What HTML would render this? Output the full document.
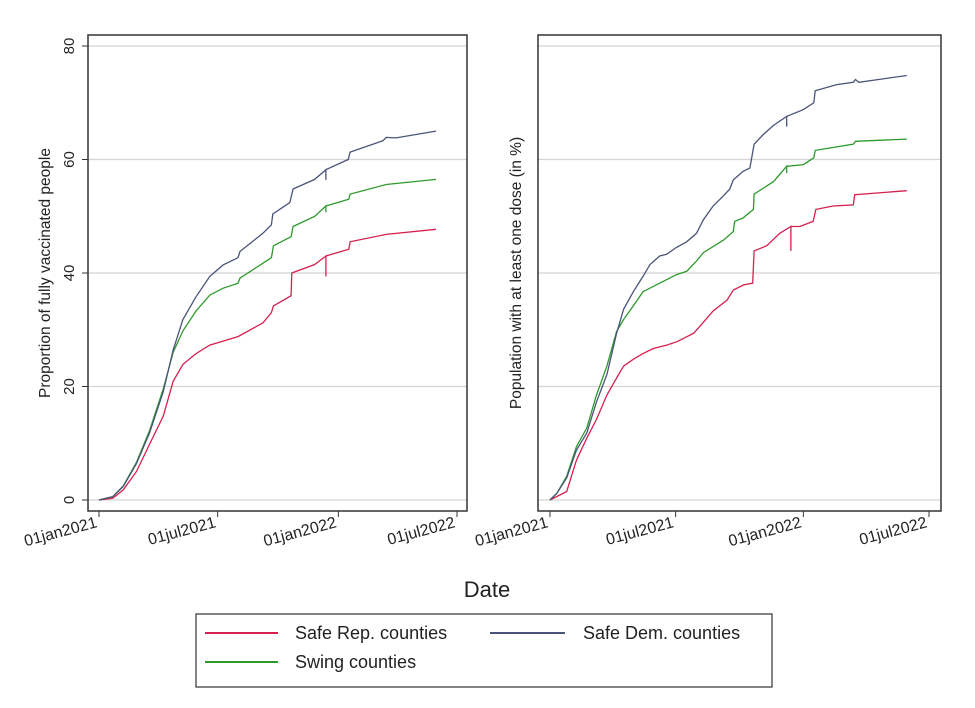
<!DOCTYPE html>
<html><head><meta charset="utf-8"><style>
body{margin:0;background:#fff;}
svg{display:block;font-family:"Liberation Sans",Arial,sans-serif;}
</style></head><body>
<svg id="chart" width="975" height="708" viewBox="0 0 975 708"></svg>
<script>
// Y ticks
const yTicks=[0,20,40,60,80];
const xTickLabels=["01jan2021","01jul2021","01jan2022","01jul2022"];
const xTickDays=[0,181,365,546];
// Left panel: fully vaccinated [day values, percent]
const leftDemDays=[0,21,37,57,77,98,113,128,148,169,189,212,215,250,263,265,291,296,329,346,346,346,380,383,433,438,453,514];
const leftDemVals=[0,0.6,2.4,6.4,11.8,19.1,26.4,31.8,35.8,39.4,41.4,42.7,43.8,47,48.5,50.4,52.4,54.8,56.5,58.2,56.4,58.2,60,61.3,63.3,63.9,63.8,65.0];
const leftSwingDays=[0,21,37,57,77,98,113,128,148,169,189,212,215,263,266,293,296,329,346,346,346,381,383,438,514];
const leftSwingVals=[0,0.6,2.5,6.6,12.2,19.6,26.0,29.8,33.3,36.1,37.3,38.2,39.1,42.7,44.8,46.4,48.2,50,51.8,50.7,51.8,53,53.9,55.6,56.5];
const leftRepDays=[0,21,37,57,77,98,113,128,148,169,212,250,263,266,293,294,329,346,346,346,381,383,438,514];
const leftRepVals=[0,0.3,1.8,5,9.8,14.8,20.9,23.9,25.8,27.3,28.8,31.2,33,34.2,36,40,41.5,43,39.4,43,44.2,45.5,46.8,47.7];
// Right panel: at least one dose
const rightDemDays=[0,10,24,38,53,67,82,96,106,120,134,144,158,168,182,197,211,221,235,250,259,264,278,288,294,308,322,341,341,341,365,380,382,413,437,440,445,514];
const rightDemVals=[0,1.2,3.9,8.8,11.8,17.3,22.1,29.4,33.6,36.7,39.4,41.5,43,43.3,44.5,45.5,47,49.4,51.8,53.6,54.8,56.4,57.9,58.5,62.7,64.5,66,67.6,65.8,67.6,68.8,70,72.1,73.2,73.6,74.1,73.6,74.8];
const rightSwingDays=[0,10,24,38,53,67,82,96,106,120,134,158,182,197,211,221,250,264,266,278,293,294,322,341,341,341,365,380,382,437,440,514];
const rightSwingVals=[0,1.2,4.2,9.4,12.7,18.5,23.6,29.7,31.8,34.2,36.7,38.2,39.7,40.3,42.1,43.6,45.8,47.3,49.1,49.7,51.2,53.9,56.1,58.8,57.6,58.8,59.1,60.3,61.6,62.7,63.2,63.6];
const rightRepDays=[0,24,38,53,67,82,96,106,120,134,149,168,183,207,216,235,255,264,279,292,294,312,331,347,347,347,360,379,383,408,437,439,514];
const rightRepVals=[0,1.5,7,10.9,14.2,18.5,21.5,23.6,24.8,25.8,26.7,27.3,27.9,29.4,30.6,33.3,35.2,37,37.9,38.2,43.9,44.8,47,48.2,43.9,48.2,48.2,49.1,51.2,51.8,52,53.8,54.5];

const NS="http://www.w3.org/2000/svg";
const svg=document.getElementById('chart');
function mk(tag,attrs,parent){const e=document.createElementNS(NS,tag);for(const k in attrs)e.setAttribute(k,attrs[k]);(parent||svg).appendChild(e);return e;}
const yScale=v=>500-v*5.675;
const COL={rep:"#d6204f",dem:"#4a5478",swing:"#2d9a2d"};

function panel(name,box,x0,perDay,series,ylabel,showY,ylOff){
  const g=mk('g',{});
  
  
  const xs=d=>x0+d*perDay;
  yTicks.forEach(t=>{
    const l=mk('line',{x1:box[0],x2:box[1],y1:yScale(t),y2:yScale(t),stroke:"#d4d4d4","stroke-width":1.3},g);
    
    
    if(showY){
      mk('line',{x1:box[0]-6,x2:box[0],y1:yScale(t),y2:yScale(t),stroke:"#333","stroke-width":1},g);
      const tx=mk('text',{x:0,y:0,transform:`translate(${box[0]-14},${yScale(t)}) rotate(-90)`,"text-anchor":"middle","font-size":15,fill:"#222"},g);
      tx.textContent=t;
      
      
    }
  });
  const r=mk('rect',{x:box[0],y:35,width:box[1]-box[0],height:476,fill:"none",stroke:"#333","stroke-width":1.5},g);
  
  
  xTickDays.forEach((d,i)=>{
    const x=xs(d);
    mk('line',{x1:x,x2:x,y1:511,y2:517,stroke:"#333","stroke-width":1},g);
    const tx=mk('text',{x:0,y:0,transform:`translate(${x-1},${527}) rotate(-15)`,"text-anchor":"end","font-size":16,fill:"#222"},g);
    tx.textContent=xTickLabels[i];
    
    
  });
  series.forEach(s=>{
    const pts=s.d.map((d,i)=>xs(d).toFixed(1)+","+yScale(s.v[i]).toFixed(1)).join(" ");
    const p=mk('polyline',{points:pts,fill:"none",stroke:COL[s.c],"stroke-width":1.3},g);
    
    
  });
  const yl=mk('text',{x:0,y:0,transform:`translate(${box[0]-ylOff},${273}) rotate(-90)`,"text-anchor":"middle","font-size":15.5,fill:"#222"},g);
  yl.textContent=ylabel;
  
  
}
panel('left-panel',[88,467],99,358/546,[
 {d:leftRepDays,v:leftRepVals,c:"rep",n:"line-safe-rep"},
 {d:leftSwingDays,v:leftSwingVals,c:"swing",n:"line-swing"},
 {d:leftDemDays,v:leftDemVals,c:"dem",n:"line-safe-dem"}],"Proportion of fully vaccinated people",true,38);
panel('right-panel',[538,941],550,379/546,[
 {d:rightRepDays,v:rightRepVals,c:"rep",n:"line-safe-rep"},
 {d:rightSwingDays,v:rightSwingVals,c:"swing",n:"line-swing"},
 {d:rightDemDays,v:rightDemVals,c:"dem",n:"line-safe-dem"}],"Population with at least one dose (in %)",false,17);
</script>
<svg style="position:absolute;left:0;top:0" width="975" height="708">
  <text x="487" y="597" text-anchor="middle" font-size="22" fill="#222" font-family="Liberation Sans, sans-serif">Date</text>
  <g font-family="Liberation Sans, sans-serif" font-size="18" fill="#222">
    <rect x="196" y="614" width="576" height="73" fill="#fff" stroke="#333" stroke-width="1.2"/>
    <g><line x1="205" x2="278" y1="633" y2="633" stroke="#d6204f" stroke-width="2"/><text x="295" y="639">Safe Rep. counties</text></g>
    <g><line x1="490" x2="565" y1="633" y2="633" stroke="#4a5478" stroke-width="2"/><text x="583" y="639">Safe Dem. counties</text></g>
    <g><line x1="205" x2="278" y1="662" y2="662" stroke="#2d9a2d" stroke-width="2"/><text x="295" y="668">Swing counties</text></g>
  </g>
</svg>
</body></html>
